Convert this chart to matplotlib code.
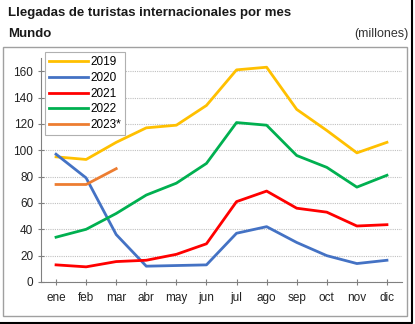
import matplotlib.pyplot as plt
from matplotlib.patches import Rectangle
from matplotlib.lines import Line2D

plt.rcParams['font.family'] = ['Liberation Sans', 'DejaVu Sans']

months = ["ene", "feb", "mar", "abr", "may", "jun",
          "jul", "ago", "sep", "oct", "nov", "dic"]
y2019 = [95, 93, 106, 117, 119, 134, 161, 163, 131, 115, 98, 106]
y2020 = [97, 79, 36, 12, 12.5, 13, 37, 42, 30, 20, 14, 16.5]
y2021 = [13, 11.5, 15.5, 16.5, 21, 29, 61, 69, 56, 53, 42.5, 43.5]
y2022 = [34, 40, 52, 66, 75, 90, 121, 119, 96, 87, 72, 81]
y2023 = [74, 74, 86]

series = [("2019", y2019, "#FFC000"),
          ("2020", y2020, "#4472C4"),
          ("2021", y2021, "#FF0000"),
          ("2022", y2022, "#00B050"),
          ("2023*", y2023, "#ED7D31")]

W, H = 415, 324
fig = plt.figure(figsize=(W / 100, H / 100), dpi=100)

# frame around the chart and shadow border of the picture
fig.patches.append(Rectangle((3 / W, 1 - 316 / H), 404 / W, 269 / H,
                             transform=fig.transFigure, fill=False,
                             edgecolor="#a0a0a0", lw=1))
fig.lines.append(Line2D([0, 412 / W, 412 / W], [1.5 / H, 1.5 / H, 1],
                        transform=fig.transFigure, color="black", lw=1.5))

fig.text(8 / W, 1 - 13 / H, "Llegadas de turistas internacionales por mes",
         fontsize=9.5, fontweight="bold", va="center", color="#1a1a1a")
fig.text(8 / W, 1 - 34 / H, "Mundo", fontsize=9.5, fontweight="bold",
         va="center", color="#1a1a1a")
fig.text(408 / W, 1 - 34 / H, "(millones)", fontsize=9, ha="right",
         va="center", color="#333333")

ax = fig.add_axes([41 / W, 1 - 282 / H, 361 / W, 224 / H])
x = list(range(len(months)))
for name, vals, col in series:
    ax.plot(x[:len(vals)], vals, color=col, lw=2, label=name)

ax.set_xlim(-0.5, 11.5)
ax.set_ylim(0, 170)
ax.set_yticks(range(0, 161, 20))
ax.set_xticks(x)
ax.set_xticklabels(months)
ax.grid(axis="y", color="#c0c0c0", ls=(0, (1, 1)), lw=0.8)
ax.set_axisbelow(True)
for s in ["top", "right"]:
    ax.spines[s].set_visible(False)
for s in ["left", "bottom"]:
    ax.spines[s].set_color("#808080")
ax.tick_params(direction="inout", length=5, color="#808080",
               labelsize=8.5, labelcolor="#222222", pad=3)
ax.tick_params(axis="x", pad=5)

leg = ax.legend(loc="upper left", bbox_to_anchor=(0.011, 1.027),
                borderaxespad=0, fontsize=8.5,
                handlelength=3.3, handletextpad=0.2, labelspacing=0.32,
                borderpad=0.35, fancybox=False, edgecolor="#b0b0b0",
                framealpha=1)
leg.get_frame().set_linewidth(0.8)

fig.savefig("out.png", dpi=100)
